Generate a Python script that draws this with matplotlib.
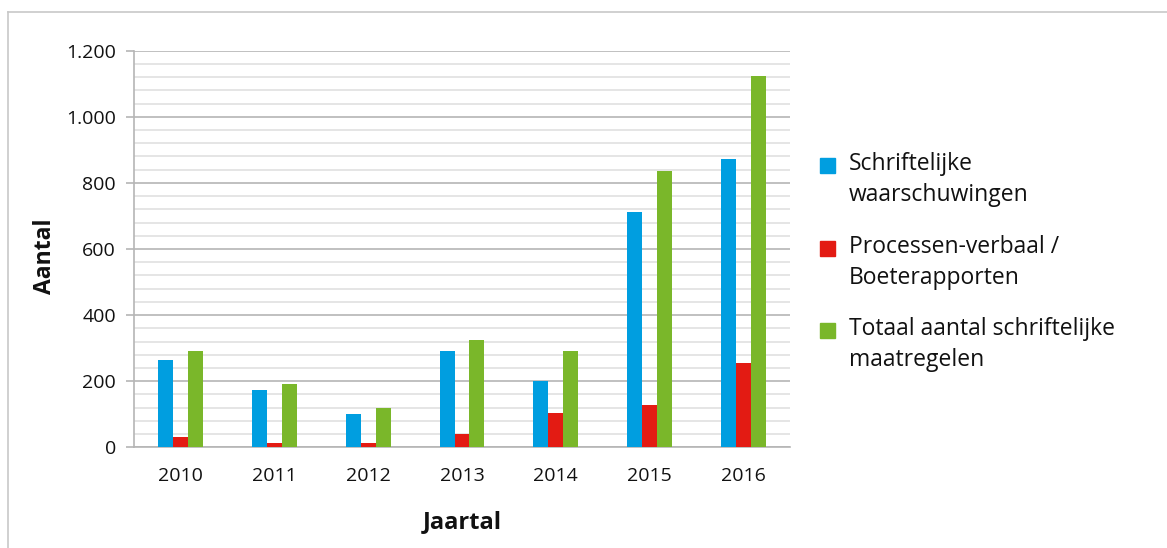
import matplotlib
matplotlib.use("Agg")
import matplotlib.pyplot as plt
import numpy as np
from matplotlib.patches import Rectangle
from matplotlib.lines import Line2D
from matplotlib.ticker import MultipleLocator, FuncFormatter

years = ["2010", "2011", "2012", "2013", "2014", "2015", "2016"]
schriftelijke_waarschuwingen = [263, 174, 102, 291, 200, 711, 872]
processen_verbaal = [31, 12, 12, 40, 103, 129, 254]
totaal_maatregelen = [290, 191, 120, 326, 291, 836, 1122]
series_labels = ["Schriftelijke\nwaarschuwingen",
                 "Processen-verbaal /\nBoeterapporten",
                 "Totaal aantal schriftelijke\nmaatregelen"]
colors = ["#009ee0", "#e31b13", "#7ab72a"]

plt.rcParams['font.family'] = ['Open Sans', 'DejaVu Sans']

W, H = 1167, 548
fig = plt.figure(figsize=(W / 100, H / 100), dpi=100)

# outer frame
fig.add_artist(Line2D([8 / W, 8 / W], [0, 1 - 12 / H], transform=fig.transFigure,
                      color="#c8c8c8", lw=1.2))
fig.add_artist(Line2D([8 / W, 1], [1 - 12 / H, 1 - 12 / H], transform=fig.transFigure,
                      color="#c8c8c8", lw=1.2))

ax = fig.add_axes([134 / W, 1 - 447.3 / H, (790 - 134) / W, (447.3 - 50.7) / H])

x = np.arange(len(years))
bw = 0.16
series = [schriftelijke_waarschuwingen, processen_verbaal, totaal_maatregelen]
for i, (vals, c) in enumerate(zip(series, colors)):
    ax.bar(x + (i - 1) * bw, vals, width=bw, color=c, zorder=3)

ax.set_xlim(-0.5, len(years) - 0.5)
ax.set_ylim(0, 1200)
ax.yaxis.set_major_locator(MultipleLocator(200))
ax.yaxis.set_minor_locator(MultipleLocator(40))
ax.yaxis.set_major_formatter(FuncFormatter(lambda v, p: f"{int(v):,}".replace(",", ".")))
ax.grid(axis="y", which="major", color="#b5b5b5", lw=1.2, zorder=0)
ax.grid(axis="y", which="minor", color="#e0e0e0", lw=1.2, zorder=0)
ax.set_xticks(x)
ax.set_xticklabels(years)

for s in ["top", "right"]:
    ax.spines[s].set_visible(False)
for s in ["left", "bottom"]:
    ax.spines[s].set_color("#b5b5b5")
    ax.spines[s].set_linewidth(1.2)

ax.tick_params(axis="y", which="major", length=6, color="#b5b5b5", width=1.2,
               labelsize=14, pad=7, labelcolor="#111111")
ax.tick_params(axis="y", which="minor", length=0)
ax.tick_params(axis="x", length=0, labelsize=14, pad=14, labelcolor="#111111")

fig.text(45 / W, 1 - 256 / H, "Aantal", rotation=90, ha="center", va="center",
         fontsize=16.5, fontweight="bold", color="#111111")
fig.text(462 / W, 1 - 522 / H, "Jaartal", ha="center", va="center",
         fontsize=17, fontweight="bold", color="#111111")

# legend
first_line_y = [165, 248, 330]
for lab, c, yy in zip(series_labels, colors, first_line_y):
    fig.add_artist(Rectangle((820 / W, 1 - (yy + 8) / H), 15 / W, 15 / H,
                             transform=fig.transFigure, color=c))
    fig.text(849 / W, 1 - (yy - 13) / H, lab, ha="left", va="top",
             fontsize=16.5, color="#111111", linespacing=1.38)

fig.savefig("out.png", dpi=100)
